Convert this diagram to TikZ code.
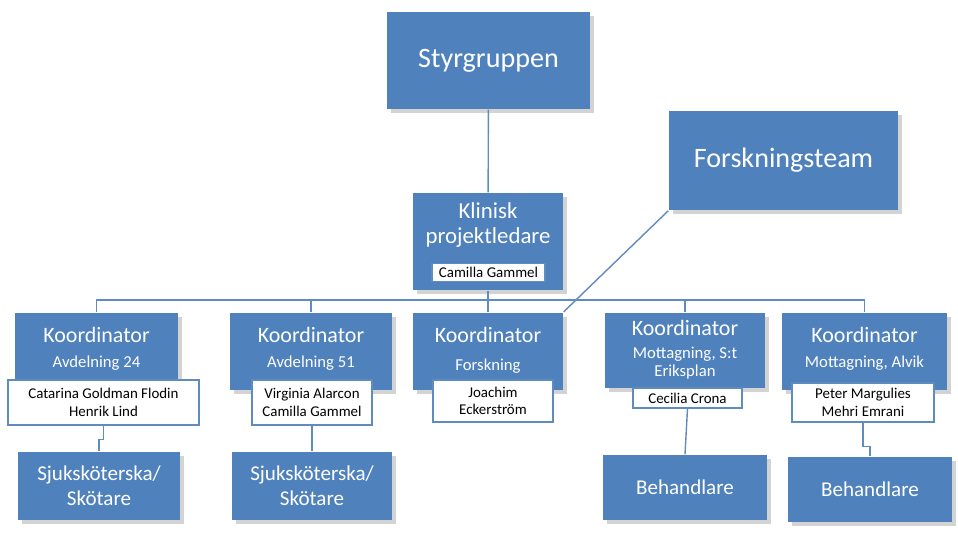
\documentclass[tikz,border=0pt]{standalone}
\usepackage{fontspec}
\setmainfont{Carlito}
\usetikzlibrary{positioning,shadows}
\definecolor{orgblue}{RGB}{79,129,189}
\definecolor{orgline}{RGB}{95,140,190}
\tikzset{
  unit/.style={fill=orgblue, text=white, inner sep=2pt, align=center, drop shadow={opacity=0.35}},
  namebox/.style={fill=white, draw=orgline, text=black, font=\fontsize{8.5pt}{10pt}\selectfont, inner sep=2pt, align=center},
  link/.style={draw=orgline, line width=0.8pt}
}
\begin{document}
\begin{tikzpicture}[x=0.02cm, y=-0.02cm, thick]
\useasboundingbox (0,0) rectangle (958,532);
%%%%% Top %%%%%
\node[unit, minimum width=4.06cm, minimum height=1.94cm, font=\fontsize{16pt}{19pt}\selectfont] (styr) at (488.5,60.5) {Styrgruppen};
\node[unit, minimum width=4.58cm, minimum height=1.98cm, font=\fontsize{16pt}{19pt}\selectfont] (forsk) at (783.5,160.5) {Forskningsteam};
\node[unit, minimum width=3.0cm, minimum height=1.94cm] (klin) at (488,241.5) {};
\node[font=\fontsize{13pt}{14.5pt}\selectfont, text=white, align=center] at (488,225) {Klinisk\\projektledare};
\node[namebox, minimum width=2.26cm] (camilla) at (488.5,272.5) {Camilla Gammel};
%%%%% Koordinatorer %%%%%
\foreach \n/\x/\w/\sub in {a/96.5/3.26/Avdelning 24, b/311/3.24/Avdelning 51, c/488/3.0/Forskning, e/864.5/3.3/{Mottagning, Alvik}}{
  \node[unit, minimum width=\w cm, minimum height=1.54cm] (k\n) at (\x,351) {};
  \node[text=white, font=\fontsize{12.5pt}{14pt}\selectfont] at (\x,335) {Koordinator};
}
\node[unit, minimum width=3.2cm, minimum height=1.5cm] (kd) at (685,350.5) {};
\node[text=white, font=\fontsize{12.5pt}{14pt}\selectfont] at (685,328) {Koordinator};
\node[text=white, font=\fontsize{9.5pt}{10.5pt}\selectfont, align=center] at (685,363) {Mottagning, S:t\\Eriksplan};
\node[text=white, font=\fontsize{9.5pt}{11pt}\selectfont] at (96.5,363) {Avdelning 24};
\node[text=white, font=\fontsize{9.5pt}{11pt}\selectfont] at (311,363) {Avdelning 51};
\node[text=white, font=\fontsize{9.5pt}{11pt}\selectfont] at (488,366) {Forskning};
\node[text=white, font=\fontsize{9.5pt}{11pt}\selectfont] at (864.5,363) {Mottagning, Alvik};
%%%%% Namn %%%%%
\node[namebox, minimum width=3.82cm, minimum height=0.9cm] (na) at (103.5,402.5) {Catarina Goldman Flodin\\Henrik Lind};
\node[namebox, minimum width=2.4cm, minimum height=0.9cm] (nb) at (312,402.5) {Virginia Alarcon\\Camilla Gammel};
\node[namebox, minimum width=2.4cm, minimum height=0.84cm] (nc) at (493,401) {Joachim\\Eckerström};
\node[namebox, minimum width=2.18cm, minimum height=0.4cm] (nd) at (687.5,398) {Cecilia Crona};
\node[namebox, minimum width=2.84cm, minimum height=0.78cm] (ne) at (863,402.5) {Peter Margulies\\Mehri Emrani};
%%%%% Botten %%%%%
\node[unit, minimum width=3.24cm, minimum height=1.36cm, font=\fontsize{12pt}{14pt}\selectfont] (sa) at (99,486) {Sjuksköterska/\\Skötare};
\node[unit, minimum width=3.2cm, minimum height=1.36cm, font=\fontsize{12pt}{14pt}\selectfont] (sb) at (312,486) {Sjuksköterska/\\Skötare};
\node[unit, minimum width=3.28cm, minimum height=1.3cm, font=\fontsize{12pt}{14pt}\selectfont] (bd) at (685,487.5) {Behandlare};
\node[unit, minimum width=3.28cm, minimum height=1.3cm, font=\fontsize{12pt}{14pt}\selectfont] (be) at (870,489.5) {Behandlare};
%%%%% Linjer %%%%%
\coordinate (bus) at (488,300);
\draw[link] (styr) -- (klin);
\draw[link] (klin) -- (kc);
\foreach \n in {a,b,d,e}{
  \draw[link] (bus) -| (k\n.north);
}
\draw[link] (forsk.south west) -- (kc.north east);
\draw[link] (na.south) -- ++(0,14) -| (sa.north);
\draw[link] (nb.south) -- ++(0,12) -| (sb.north);
\draw[link] (nd.south) -- (bd.north);
\draw[link] (ne.south) -- ++(0,24) -| (be.north);
\end{tikzpicture}
\end{document}
